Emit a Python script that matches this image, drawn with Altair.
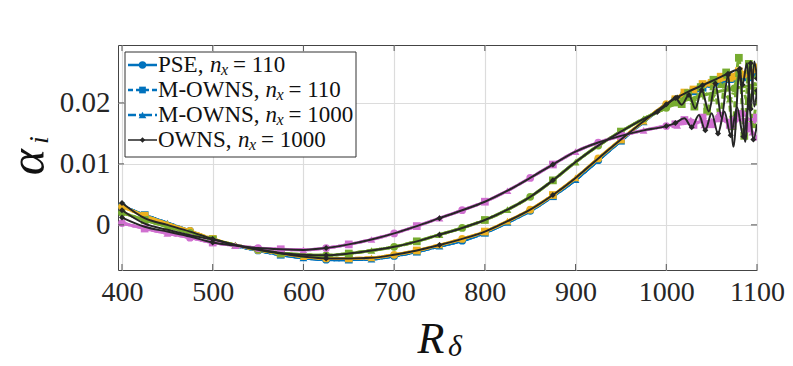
import altair as alt
import pandas as pd

# ---------------- data (alpha_i values in units of 1e-3) ----------------
R_GRID = [400, 425, 450, 475, 500, 525, 550, 575, 600, 625, 650, 675, 700, 725,
          750, 775, 800, 825, 850, 875, 900, 925, 950, 975, 1000, 1025, 1050, 1075, 1100]

BLUE_PSE = [3.1, 1.6, 0.3, -1.0, -2.4, -3.4, -4.2, -4.9, -5.4, -5.7, -5.7, -5.6, -5.1, -4.4,
            -3.5, -2.6, -1.3, 0.4, 2.3, 4.7, 7.4, 10.6, 13.8, 16.9, 19.7, 21.7, 23.0, 24.0, 24.6]
ORANGE_PSE = [3.0, 1.5, 0.2, -1.0, -2.3, -3.3, -4.1, -4.7, -5.2, -5.5, -5.5, -5.4, -4.9, -4.2,
              -3.3, -2.3, -1.1, 0.6, 2.5, 4.9, 7.7, 10.9, 14.0, 17.0, 19.8, 21.8, 23.2, 24.3, 25.2]
GREEN_PSE = [2.0, 0.8, -0.3, -1.3, -2.4, -3.3, -4.0, -4.6, -4.9, -5.0, -4.7, -4.2, -3.6, -2.7,
             -1.6, -0.5, 0.8, 2.5, 4.6, 7.3, 10.3, 13.0, 15.3, 17.4, 19.2, 20.6, 21.6, 22.4, 23.0]
MAGENTA_PSE = [0.3, -0.6, -1.4, -2.1, -2.9, -3.4, -3.8, -4.0, -4.1, -3.8, -3.2, -2.4, -1.4, -0.2,
               1.1, 2.4, 3.8, 5.6, 7.7, 9.9, 12.0, 13.5, 14.6, 15.5, 16.2, 16.7, 17.0, 17.2, 17.3]

# M-OWNS tails beyond R = 1000
BLUE_M110_TAIL_R = [1010, 1020, 1030, 1040, 1050, 1060, 1070, 1080, 1090, 1100]
BLUE_M110_TAIL_A = [20.3, 21.2, 21.9, 22.5, 23.1, 23.5, 23.9, 24.4, 24.2, 24.9]
BLUE_M1000_TAIL_R = [1015, 1035, 1055, 1075, 1095, 1100]
BLUE_M1000_TAIL_A = [20.8, 22.3, 23.3, 24.0, 24.6, 24.7]

ORANGE_M110_TAIL_R = [1010, 1020, 1030, 1040, 1050, 1060, 1070, 1080, 1090, 1100]
ORANGE_M110_TAIL_A = [20.6, 21.7, 22.2, 23.1, 23.3, 24.3, 24.1, 25.2, 24.8, 25.8]
ORANGE_M1000_TAIL_R = [1015, 1035, 1055, 1070, 1085, 1100]
ORANGE_M1000_TAIL_A = [21.0, 22.6, 23.9, 24.8, 24.6, 26.0]

GREEN_M110_TAIL_R = [1010, 1017, 1024, 1031, 1038, 1045, 1052, 1059, 1066, 1073, 1080, 1086, 1091, 1095, 1100]
GREEN_M110_TAIL_A = [20.1, 19.8, 21.6, 19.4, 22.6, 18.6, 23.8, 17.5, 25.0, 16.2, 27.4, 14.6, 26.4, 16.5, 22.0]
GREEN_M1000_TAIL_R = [1010, 1020, 1030, 1040, 1050, 1060, 1070, 1080, 1090, 1100]
GREEN_M1000_TAIL_A = [20.0, 20.9, 20.3, 21.9, 20.8, 23.0, 20.6, 24.2, 20.2, 24.6]

MAGENTA_M110_TAIL_R = [1010, 1020, 1030, 1040, 1050, 1060, 1070, 1080, 1090, 1100]
MAGENTA_M110_TAIL_A = [16.5, 17.2, 16.4, 17.6, 16.5, 17.9, 16.4, 18.2, 15.8, 17.6]
MAGENTA_M1000_TAIL_R = [1012, 1027, 1042, 1057, 1072, 1086, 1095, 1100]
MAGENTA_M1000_TAIL_A = [16.3, 17.2, 16.4, 17.8, 16.3, 18.3, 15.2, 14.4]

# OWNS (n_x = 1000)
OWNS_ORANGE_LEFT = [3.6, 1.1, 0.0, -1.1]
OWNS_ORANGE_TAIL_R = [1012, 1025, 1040, 1055, 1068, 1078, 1084, 1089, 1093, 1097, 1100]
OWNS_ORANGE_TAIL_A = [20.9, 21.9, 22.9, 23.9, 24.8, 25.4, 23.0, 26.5, 19.0, 26.8, 24.0]
OWNS_GREEN_LEFT = [2.4, 0.2, -0.8, -1.7]
OWNS_GREEN_TAIL_R = [990, 1000, 1010, 1017, 1025, 1032, 1039, 1047, 1054, 1061, 1068, 1074,
                     1081, 1087, 1093, 1097, 1100]
OWNS_GREEN_TAIL_A = [18.5, 19.6, 20.8, 19.7, 21.3, 19.1, 22.1, 18.6, 23.2, 17.6, 24.6, 12.8,
                     25.6, 13.6, 26.5, 19.4, 22.0]
OWNS_MAGENTA_LEFT = [1.2, -0.3, -1.1, -1.9]
OWNS_MAGENTA_TAIL_R = [1010, 1020, 1028, 1036, 1043, 1050, 1057, 1064, 1071, 1078, 1085, 1091, 1096, 1100]
OWNS_MAGENTA_TAIL_A = [16.7, 17.5, 16.0, 18.0, 15.5, 18.3, 15.0, 18.6, 14.7, 19.3, 14.5, 19.8, 14.0, 16.5]

X_TICKS = [400, 500, 600, 700, 800, 900, 1000, 1100]
Y_TICKS = [0, 0.01, 0.02]

COLORS = {"blue": "#0072BD", "orange": "#EDB120", "green": "#77AC30", "magenta": "#D070D0"}
DARK = "#262626"

# ---------------- build table ----------------
rows = []


def add(series, fam, variant, Rs, As, marks):
    for r, a, m in zip(Rs, As, marks):
        rows.append(dict(series=series, fam=fam, variant=variant, R=r, a=a / 1000.0, m=bool(m)))


fams = {
    "blue": (BLUE_PSE, BLUE_M110_TAIL_R, BLUE_M110_TAIL_A, BLUE_M1000_TAIL_R, BLUE_M1000_TAIL_A),
    "orange": (ORANGE_PSE, ORANGE_M110_TAIL_R, ORANGE_M110_TAIL_A, ORANGE_M1000_TAIL_R, ORANGE_M1000_TAIL_A),
    "green": (GREEN_PSE, GREEN_M110_TAIL_R, GREEN_M110_TAIL_A, GREEN_M1000_TAIL_R, GREEN_M1000_TAIL_A),
    "magenta": (MAGENTA_PSE, MAGENTA_M110_TAIL_R, MAGENTA_M110_TAIL_A, MAGENTA_M1000_TAIL_R, MAGENTA_M1000_TAIL_A),
}
for fam, (pse, r110, a110, r1000, a1000) in fams.items():
    n = len(R_GRID)
    add(fam + "_pse", fam, "PSE", R_GRID, pse, [i % 3 == 0 for i in range(n)])
    add(fam + "_m110", fam, "M110", R_GRID[:25] + r110, pse[:25] + a110,
        [i % 3 == 1 for i in range(25)] + [True] * len(r110))
    add(fam + "_m1000", fam, "M1000", R_GRID[:25] + r1000, pse[:25] + a1000,
        [i % 3 == 2 for i in range(25)] + [True] * len(r1000))

owns = [
    ("owns_orange", OWNS_ORANGE_LEFT + ORANGE_PSE[4:25], 25, OWNS_ORANGE_TAIL_R, OWNS_ORANGE_TAIL_A),
    ("owns_green", OWNS_GREEN_LEFT + GREEN_PSE[4:24], 24, OWNS_GREEN_TAIL_R, OWNS_GREEN_TAIL_A),
    ("owns_magenta", OWNS_MAGENTA_LEFT + MAGENTA_PSE[4:25], 25, OWNS_MAGENTA_TAIL_R, OWNS_MAGENTA_TAIL_A),
]
for name, vals, n, tr, ta in owns:
    add(name, "dark", "OWNS", R_GRID[:n] + tr, vals + ta,
        [(i == 0 or i % 5 == 4) for i in range(n)] + [j % 2 == 0 for j in range(len(tr))])

df = pd.DataFrame(rows)

# ---------------- encodings ----------------
W, H = 639, 225
FONT = "Liberation Serif"
xscale = alt.Scale(domain=[395.6, 1100], nice=False, zero=False)
yscale = alt.Scale(domain=[-0.0074, 0.0295], nice=False, zero=False)
X = alt.X("R:Q", scale=xscale, title=None,
          axis=alt.Axis(values=X_TICKS, format="d", grid=True, ticks=False, domain=False,
                        labelFont=FONT, labelFontSize=28, labelColor="#262626", labelPadding=8,
                        labelFlush=False, labelOverlap=False,
                        gridColor="#dcdcdc", gridWidth=1.2))
Y = alt.Y("a:Q", scale=yscale, title=None,
          axis=alt.Axis(values=Y_TICKS, format=".2~f", grid=True, ticks=False, domain=False,
                        labelFont=FONT, labelFontSize=29, labelColor="#262626", labelPadding=8,
                        labelFlush=False, labelOverlap=False,
                        gridColor="#dcdcdc", gridWidth=1.2))

dash_scale = alt.Scale(domain=["PSE", "M110", "M1000"], range=[[1, 0], [6, 4], [8, 3, 2, 3]])
shape_scale = alt.Scale(domain=["PSE", "M110", "M1000"], range=["circle", "square", "triangle-up"])

base = alt.Chart(df)
layers = []
for fam in ["blue", "orange", "green", "magenta"]:
    col = COLORS[fam]
    sub = base.transform_filter(alt.datum.fam == fam)
    layers.append(
        sub.mark_line(color=col, strokeWidth=3, interpolate="monotone", clip=True).encode(
            x=X, y=Y, detail="variant:N",
            strokeDash=alt.StrokeDash("variant:N", scale=dash_scale, legend=None))
    )
    layers.append(
        sub.transform_filter(alt.datum.m == True).mark_point(
            color=col, filled=True, opacity=1, size=60, clip=True).encode(
            x=X, y=Y, shape=alt.Shape("variant:N", scale=shape_scale, legend=None))
    )

dark = base.transform_filter(alt.datum.variant == "OWNS")
layers.append(dark.mark_line(color=DARK, strokeWidth=2, interpolate="monotone", clip=True).encode(
    x=X, y=Y, detail="series:N"))
layers.append(dark.transform_filter(alt.datum.m == True).mark_point(
    shape="diamond", color=DARK, filled=True, opacity=1, size=36, clip=True).encode(x=X, y=Y))

# inward ticks
xt = alt.Chart(pd.DataFrame({"R": X_TICKS}))
yt = alt.Chart(pd.DataFrame({"a": Y_TICKS}))
TICK = "#555555"
layers.append(xt.mark_rule(color=TICK, strokeWidth=1).encode(x=alt.X("R:Q", scale=xscale), y=alt.value(H), y2=alt.value(H - 6)))
layers.append(xt.mark_rule(color=TICK, strokeWidth=1).encode(x=alt.X("R:Q", scale=xscale), y=alt.value(0), y2=alt.value(6)))
layers.append(yt.mark_rule(color=TICK, strokeWidth=1).encode(y=alt.Y("a:Q", scale=yscale), x=alt.value(0), x2=alt.value(6)))
layers.append(yt.mark_rule(color=TICK, strokeWidth=1).encode(y=alt.Y("a:Q", scale=yscale), x=alt.value(W - 6), x2=alt.value(W)))

# ---------------- legend & titles ----------------
one = alt.Chart(pd.DataFrame({"k": [0]}))


def txt(s, x, y, size=23, italic=False, align="left", baseline="middle", angle=0):
    kw = dict(text=s, font=FONT, fontSize=size, align=align, baseline=baseline, color="#111111")
    if italic:
        kw["fontStyle"] = "italic"
    if angle:
        kw["angle"] = angle
    return one.mark_text(**kw).encode(x=alt.value(x), y=alt.value(y))


layers.append(one.mark_rect(fill="white", stroke="#333333", strokeWidth=1).encode(
    x=alt.value(7), x2=alt.value(238), y=alt.value(7), y2=alt.value(112)))

leg = [
    (20, COLORS["blue"], [1, 0], "circle", 2.6, 55, "PSE,", 92),
    (45, COLORS["blue"], [5, 3], "square", 2.6, 45, "M-OWNS,", 147.5),
    (70, COLORS["blue"], [8, 3, 2, 3], "triangle-up", 2.6, 60, "M-OWNS,", 147.5),
    (95, DARK, [1, 0], "diamond", 1.6, 30, "OWNS,", 120),
]
LEG_EQ = ["= 110", "= 110", "= 1000", "= 1000"]
for (y, col, dash, shp, sw, sz, lab, nx), eq in zip(leg, LEG_EQ):
    layers.append(one.mark_rule(color=col, strokeWidth=sw, strokeDash=dash).encode(
        x=alt.value(10), x2=alt.value(39), y=alt.value(y)))
    layers.append(one.mark_point(shape=shp, color=col, filled=True, opacity=1, size=sz).encode(
        x=alt.value(24.5), y=alt.value(y)))
    layers.append(txt(lab, 40, y))
    layers.append(txt("n", nx, y, italic=True))
    layers.append(txt("x", nx + 11, y + 5, size=16, italic=True))
    layers.append(txt(eq, nx + 23, y))

# axis titles
layers.append(txt("α", -74, 117, size=50, italic=True, align="center", baseline="alphabetic", angle=270))
layers.append(txt("i", -70, 95, size=28, italic=True, align="center", baseline="alphabetic", angle=270))
layers.append(txt("R", 313, 308, size=44, italic=True, align="center", baseline="alphabetic"))
layers.append(txt("δ", 330, 311, size=30, italic=True, align="left", baseline="alphabetic"))

chart = alt.layer(*layers).properties(
    width=W, height=H,
    autosize=alt.AutoSizeParams(type="none"),
    padding={"left": 110, "top": 37, "right": 28, "bottom": 88},
    background="white",
).configure_view(stroke="#444444", strokeWidth=1)

chart.save("out.html", embed_options={"renderer": "svg", "actions": False})
